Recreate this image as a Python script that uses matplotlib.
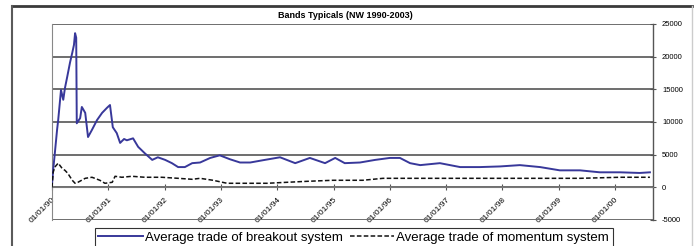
import matplotlib
matplotlib.use("Agg")
import matplotlib.pyplot as plt
from matplotlib.lines import Line2D

plt.rcParams['font.family'] = ['Liberation Sans', 'DejaVu Sans']

title = "Bands Typicals (NW 1990-2003)"
series_names = ["Average trade of breakout system", "Average trade of momentum system"]

breakout_t = [1990.00, 1990.02, 1990.05, 1990.09, 1990.11, 1990.16, 1990.20, 1990.23, 1990.27,
              1990.32, 1990.36, 1990.39, 1990.41, 1990.43, 1990.44, 1990.50, 1990.53, 1990.59,
              1990.64, 1990.71, 1990.80, 1990.89, 1990.98, 1991.03, 1991.08, 1991.15, 1991.21,
              1991.28, 1991.33, 1991.44, 1991.53, 1991.65, 1991.78, 1991.88, 1992.01, 1992.13,
              1992.24, 1992.36, 1992.49, 1992.63, 1992.81, 1992.98, 1993.16, 1993.34, 1993.52,
              1993.78, 1994.05, 1994.32, 1994.58, 1994.85, 1995.03, 1995.20, 1995.47, 1995.74,
              1996.00, 1996.18, 1996.36, 1996.54, 1996.89, 1997.25, 1997.60, 1997.96, 1998.31,
              1998.67, 1999.02, 1999.38, 1999.73, 2000.09, 2000.44, 2000.62]
breakout_v = [500, 2600, 5200, 8800, 10300, 14900, 13400, 15200, 16900,
              19100, 20600, 21800, 23600, 22900, 9800, 10600, 12300, 11400,
              7700, 8800, 10300, 11400, 12200, 12600, 9200, 8300, 6800,
              7400, 7200, 7500, 6200, 5200, 4200, 4600, 4200, 3700,
              3100, 3100, 3700, 3800, 4500, 4900, 4300, 3800, 3800,
              4200, 4600, 3700, 4500, 3700, 4500, 3700, 3800, 4200,
              4500, 4500, 3700, 3400, 3700, 3100, 3100, 3200, 3400,
              3100, 2600, 2600, 2300, 2300, 2200, 2300]

momentum_t = [1990.00, 1990.02, 1990.05, 1990.11, 1990.18, 1990.23, 1990.28, 1990.36, 1990.41,
              1990.46, 1990.59, 1990.71, 1990.76, 1990.85, 1990.94, 1991.07, 1991.12, 1991.24,
              1991.42, 1991.65, 1991.95, 1992.24, 1992.49, 1992.63, 1992.86, 1993.11, 1993.46,
              1993.82, 1994.17, 1994.53, 1994.99, 1995.52, 1995.88, 1996.13, 1996.71, 1997.65,
              1998.49, 1999.38, 2000.09, 2000.62]
momentum_v = [0, 2300, 3100, 3700, 2900, 2600, 2150, 1080, 620,
              770, 1380, 1540, 1380, 1080, 620, 770, 1690, 1540,
              1690, 1540, 1540, 1380, 1230, 1380, 1080, 620, 620,
              620, 770, 920, 1080, 1080, 1380, 1380, 1380, 1380,
              1380, 1380, 1540, 1540]

tick_years = [1990, 1991, 1992, 1993, 1994, 1995, 1996, 1997, 1998, 1999, 2000]
tick_labels = ["01/01/90", "01/01/91", "01/01/92", "01/01/93", "01/01/94", "01/01/95",
               "01/01/96", "01/01/97", "01/01/98", "01/01/99", "01/01/00"]
y_ticks = [-5000, 0, 5000, 10000, 15000, 20000, 25000]

W, H = 698, 246
fig = plt.figure(figsize=(W / 100, H / 100), dpi=100)
ax = fig.add_axes([52 / W, 1 - 220 / H, (653 - 52) / W, (220 - 24) / H])

ax.spines['bottom'].set_position(('data', 0))
ax.spines['bottom'].set_color('#777777')
ax.spines['top'].set_visible(False)
ax.spines['left'].set_color('#888888')
ax.spines['right'].set_color('#555555')
ax.spines['right'].set_linewidth(1.0)

ax.plot(breakout_t, breakout_v, color="#38389a", lw=1.4, zorder=3)
ax.plot(momentum_t, momentum_v, color="#111111", lw=1.1, ls=(0, (3, 1.5)), zorder=3)

ax.set_xlim(1990, 1990 + 601 / 56.3)
ax.set_ylim(-5000, 25000)
ax.set_yticks(y_ticks)
ax.set_yticklabels([str(v) for v in y_ticks])
ax.yaxis.tick_right()
ax.tick_params(axis='y', direction='inout', length=5, width=0.8, color='#555555',
               labelsize=5.5, pad=4)
ax.grid(axis='y', color='#6e6e6e', lw=1.4, zorder=1)
ax.set_axisbelow(True)

ax.set_xticks(tick_years)
ax.set_xticklabels(tick_labels)
for lab in ax.get_xticklabels():
    lab.set_rotation(45)
    lab.set_ha('right')
    lab.set_rotation_mode('anchor')
    lab.set_fontsize(6)
ax.tick_params(axis='x', direction='inout', length=4, width=0.8, color='#555555', pad=4)
ax.patch.set_alpha(0)

fig.text(345 / W, 1 - 15 / H, title, ha='center', va='center', fontsize=6.5, fontweight='bold')

# outer chart frame
fig.add_artist(Line2D([12 / W, 692 / W], [1 - 6 / H, 1 - 6 / H], color='#3a3a3a', lw=2))
fig.add_artist(Line2D([12 / W, 12 / W], [1 - 6 / H, 0], color='#5a5a5a', lw=1.5))
fig.add_artist(Line2D([692 / W, 692 / W], [1 - 6 / H, 0], color='#cccccc', lw=1))

handles = [Line2D([], [], color="#38389a", lw=1.4),
           Line2D([], [], color="#111111", lw=1.1, ls=(0, (3, 1.5)))]
leg = fig.legend(handles, series_names, loc='upper left', bbox_to_anchor=(95 / W, 1 - 228 / H),
                 ncol=2, fontsize=9.5, frameon=True, fancybox=False, handlelength=3.4,
                 handletextpad=0.15, columnspacing=0.5, borderpad=0.25, borderaxespad=0)
leg.get_frame().set_edgecolor('black')
leg.get_frame().set_linewidth(0.8)

fig.savefig("out.png", dpi=100)
